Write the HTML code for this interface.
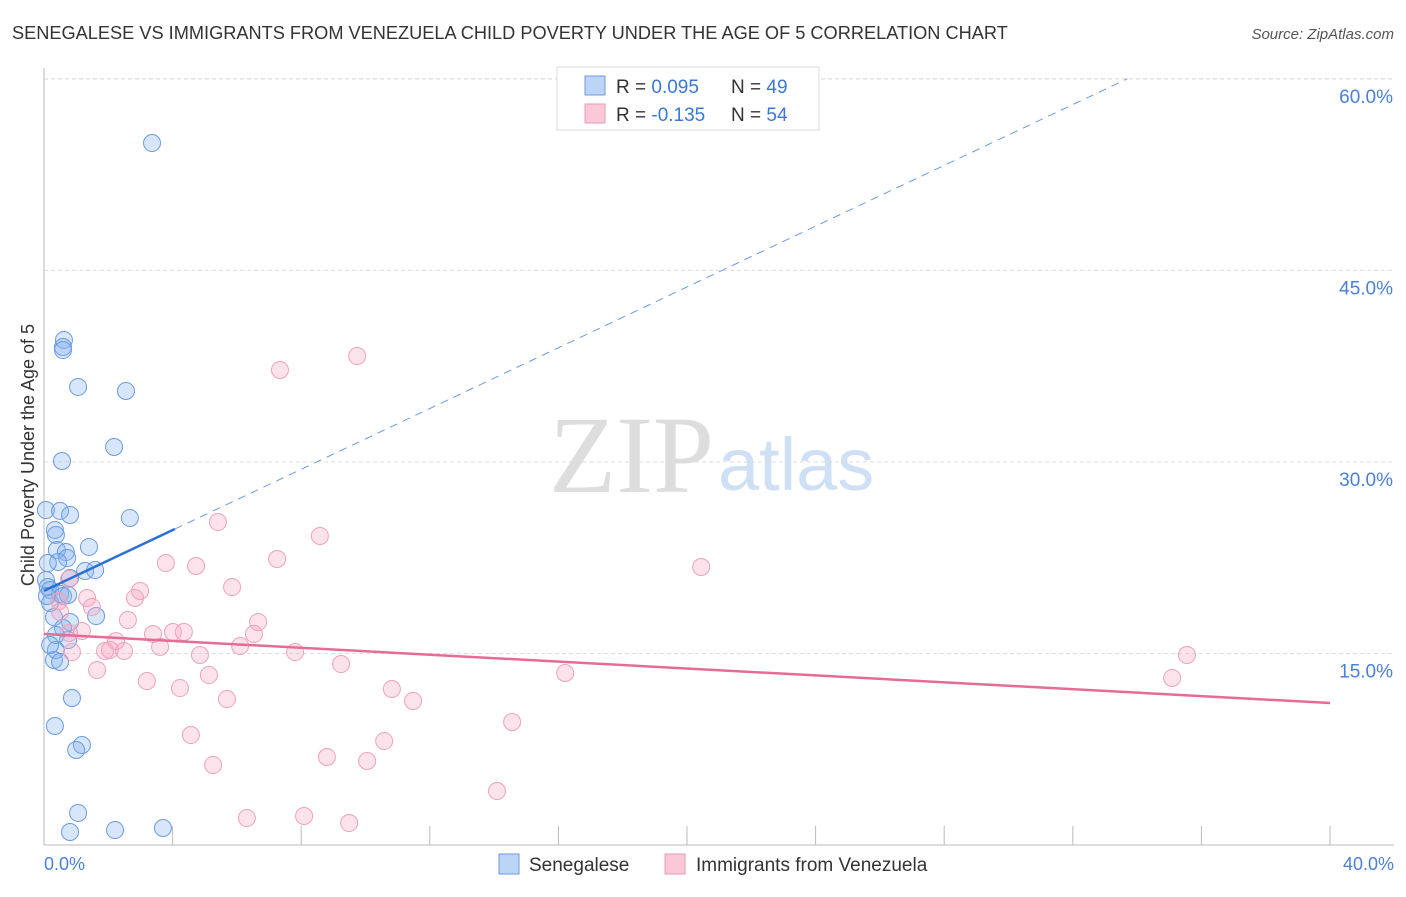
<!DOCTYPE html>
<html><head><meta charset="utf-8"><style>
body{margin:0;background:#fff;font-family:"Liberation Sans",sans-serif}
svg text{font-family:"Liberation Sans",sans-serif}
</style></head><body>
<svg id="chart" width="1406" height="892" xmlns="http://www.w3.org/2000/svg">
<text x="12" y="39" font-size="18.2" fill="#333">SENEGALESE VS IMMIGRANTS FROM VENEZUELA CHILD POVERTY UNDER THE AGE OF 5 CORRELATION CHART</text>
<text x="1394" y="39" font-size="15" fill="#555" font-style="italic" text-anchor="end">Source: ZipAtlas.com</text>
<text x="714" y="492" font-size="110" fill="#ddd" text-anchor="end" style="font-family:'Liberation Serif',serif">ZIP</text>
<text x="718" y="490" font-size="74" fill="#cfe0f5">atlas</text>
<g id="grid"></g>
<line x1="44" y1="68" x2="44" y2="845" stroke="#bbb"/>
<line x1="44" y1="845" x2="1394" y2="845" stroke="#bbb"/>
<text x="-455" y="34" transform="rotate(-90)" font-size="18" fill="#333" text-anchor="middle">Child Poverty Under the Age of 5</text>
<text x="44" y="870" font-size="18" fill="#4a80d8">0.0%</text>
<text x="1394" y="870" font-size="18" fill="#4a80d8" text-anchor="end">40.0%</text>
<g id="pts"></g><g id="lines"></g>
<g>
<rect x="557" y="67" width="262" height="63" fill="#fff" stroke="#ddd"/>
<rect x="585" y="76" width="20" height="19" fill="#bcd4f5" stroke="#6a9be0"/>
<rect x="585" y="104" width="20" height="19" fill="#fac8d6" stroke="#e99ab2"/>
<text x="616" y="93" font-size="19" fill="#333">R = <tspan fill="#3a78d8">0.095</tspan></text>
<text x="731" y="93" font-size="19" fill="#333">N = <tspan fill="#3a78d8">49</tspan></text>
<text x="616" y="121" font-size="19" fill="#333">R = <tspan fill="#3a78d8">-0.135</tspan></text>
<text x="731" y="121" font-size="19" fill="#333">N = <tspan fill="#3a78d8">54</tspan></text>
</g>
<g>
<rect x="499" y="854" width="20" height="20" fill="#bcd4f5" stroke="#6a9be0"/>
<text x="529" y="871" font-size="19" fill="#333">Senegalese</text>
<rect x="665" y="854" width="20" height="20" fill="#fac8d6" stroke="#e99ab2"/>
<text x="696" y="871" font-size="19" fill="#333">Immigrants from Venezuela</text>
</g>
</svg>
<script>
const yTicks=[15,30,45,60];
const yTickLabels=["15.0%","30.0%","45.0%","60.0%"];
const xTicks=[0,4,8,12,16,20,24,28,32,36,40];
const blueX=[3.36,0.62,0.59,0.59,1.06,2.55,2.18,0.56,0.06,0.50,0.81,2.67,0.34,0.37,1.40,0.40,0.68,0.72,0.44,0.12,1.28,1.59,0.81,0.06,0.12,0.19,0.50,0.59,0.75,0.19,1.62,0.31,0.81,0.59,0.37,0.75,0.37,0.31,0.50,0.87,0.34,1.18,1.00,1.06,0.81,2.21,3.70,0.09,0.19];
const blueY=[54.97,39.55,39.0,38.76,35.87,35.55,31.17,30.07,26.23,26.16,25.84,25.61,24.67,24.28,23.34,23.10,22.94,22.47,22.16,22.08,21.46,21.53,20.91,20.75,20.20,19.97,19.66,19.50,19.58,18.95,17.93,17.85,17.46,16.99,16.44,16.05,15.27,14.49,14.33,11.51,9.32,7.83,7.44,2.51,1.02,1.17,1.33,19.50,15.66];
const pinkX=[9.74,7.34,5.41,8.58,7.25,20.44,3.79,4.73,0.78,5.85,2.99,2.83,1.34,0.47,1.49,0.50,2.61,6.66,1.18,0.78,3.39,4.01,4.35,6.53,2.24,6.10,3.61,1.90,2.05,2.49,0.87,4.85,7.81,35.55,9.24,1.65,5.13,16.21,35.09,3.20,4.23,10.82,5.69,11.48,14.56,4.57,10.58,8.80,10.05,5.26,14.09,6.31,8.09,9.49];
const pinkY=[38.29,37.20,25.29,24.20,22.40,21.77,22.08,21.85,20.83,20.20,19.89,19.34,19.34,19.11,18.64,18.25,17.62,17.46,16.76,16.60,16.52,16.68,16.68,16.52,15.97,15.58,15.51,15.19,15.27,15.19,15.11,14.88,15.11,14.88,14.17,13.70,13.31,13.47,13.08,12.84,12.29,12.22,11.43,11.28,9.63,8.61,8.14,6.89,6.58,6.26,4.23,2.11,2.27,1.72];
const blueTrend=[19.9,1.19];
const pinkTrend=[16.52,-0.135];
const NS="http://www.w3.org/2000/svg";
const sx=v=>44+v*32.15, sy=v=>845-v*12.77;
function mk(t,a,p){const e=document.createElementNS(NS,t);for(const k in a)e.setAttribute(k,a[k]);document.getElementById(p).appendChild(e);return e;}
yTicks.forEach((t,i)=>{
 const l=mk('line',{x1:44,x2:1394,y1:sy(t),y2:sy(t),stroke:'#ddd','stroke-dasharray':'4,3'},'grid');
 
 
 const tx=mk('text',{x:1393,y:sy(t)+24,'font-size':19,fill:'#4a80d8','text-anchor':'end'},'grid');
 tx.textContent=yTickLabels[i];
 
 
});
const topLine=mk('line',{x1:44,x2:1394,y1:79,y2:79,stroke:'#ddd','stroke-dasharray':'4,3'},'grid');


xTicks.forEach(t=>{
 const l=mk('line',{x1:sx(t),x2:sx(t),y1:826,y2:845,stroke:'#bbb'},'grid');
 
 
});
blueX.forEach((x,i)=>{
 const c=mk('circle',{cx:sx(x),cy:sy(blueY[i]),r:8.5,fill:'rgba(130,178,240,0.32)',stroke:'#6a9be0','stroke-width':1},'pts');
 
 
});
pinkX.forEach((x,i)=>{
 const c=mk('circle',{cx:sx(x),cy:sy(pinkY[i]),r:8.5,fill:'rgba(245,165,190,0.32)',stroke:'#eea3bb','stroke-width':1},'pts');
 
 
});
const b1=mk('line',{x1:sx(0),y1:sy(blueTrend[0]),x2:sx(4.07),y2:sy(blueTrend[0]+blueTrend[1]*4.07),stroke:'#2a6fd6','stroke-width':2.5},'lines');


const xe=(60-blueTrend[0])/blueTrend[1];
const b2=mk('line',{x1:sx(4.07),y1:sy(blueTrend[0]+blueTrend[1]*4.07),x2:sx(xe),y2:sy(blueTrend[0]+blueTrend[1]*xe),stroke:'#6a9be0','stroke-width':1,'stroke-dasharray':'8,6'},'lines');


const p1=mk('line',{x1:sx(0),y1:sy(pinkTrend[0]),x2:sx(40),y2:sy(pinkTrend[0]+pinkTrend[1]*40),stroke:'#e66b96','stroke-width':2.5},'lines');


</script>
</body></html>
